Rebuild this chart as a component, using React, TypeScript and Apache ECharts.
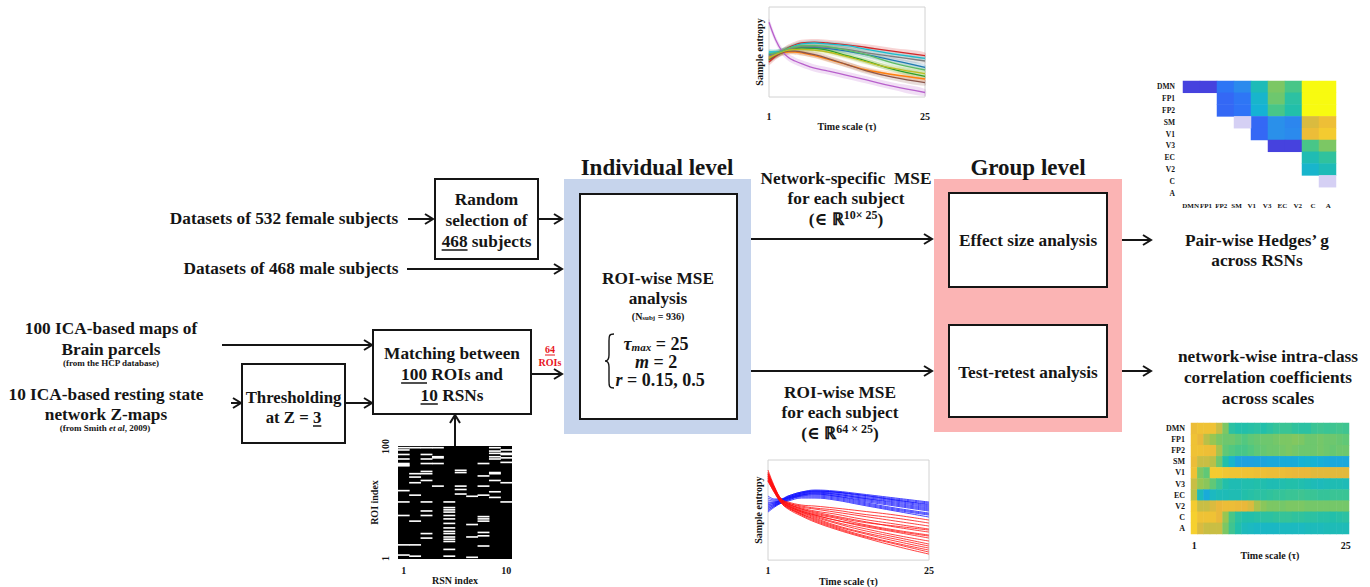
import React, { useEffect, useRef } from 'react';
import * as echarts from 'echarts';

const SERIF = '"Liberation Serif", "Times New Roman", "DejaVu Serif", serif';
const INK = '#151515';
const FS = 17.3;

echarts.graphic.registerShape(
  'brace',
  echarts.graphic.extendPath('M9 0 C4 0 4 2 4 7 L4 21 C4 25 3 27 0 27 C3 27 4 29 4 33 L4 47 C4 52 4 54 9 54', {}) as any
);

// ---------- Top chart: network-wise MSE curves (mean ± sd) ----------
const TAU_TOP = [1, 2, 3, 4, 5, 6, 8, 10, 13, 16, 20, 25];
const TOP_COLORS = ['#1f77b4', '#ff7f0e', '#2ca02c', '#d62728', '#b860cc', '#8c564b', '#17becf', '#7f7f7f', '#bcbd22', '#5dbb63'];
const TOP_MEAN = [
  [0.47, 0.49, 0.51, 0.53, 0.545, 0.55, 0.55, 0.54, 0.51, 0.47, 0.41, 0.33],
  [0.44, 0.47, 0.49, 0.5, 0.5, 0.49, 0.46, 0.42, 0.36, 0.3, 0.25, 0.2],
  [0.41, 0.46, 0.5, 0.53, 0.54, 0.545, 0.54, 0.52, 0.46, 0.4, 0.31, 0.23],
  [0.39, 0.45, 0.5, 0.55, 0.58, 0.6, 0.61, 0.6, 0.58, 0.55, 0.51, 0.46],
  [0.83, 0.64, 0.51, 0.44, 0.4, 0.37, 0.32, 0.29, 0.24, 0.19, 0.12, 0.05],
  [0.42, 0.46, 0.49, 0.51, 0.51, 0.5, 0.47, 0.43, 0.36, 0.29, 0.22, 0.16],
  [0.5, 0.5, 0.51, 0.54, 0.57, 0.59, 0.6, 0.59, 0.57, 0.53, 0.48, 0.43],
  [0.46, 0.48, 0.51, 0.53, 0.55, 0.56, 0.56, 0.55, 0.53, 0.49, 0.45, 0.4],
  [0.43, 0.47, 0.5, 0.52, 0.53, 0.53, 0.52, 0.5, 0.45, 0.39, 0.32, 0.26],
  [0.48, 0.49, 0.51, 0.54, 0.56, 0.57, 0.57, 0.56, 0.52, 0.47, 0.38, 0.3],
];
const TOP_SD = [0.03, 0.03, 0.03, 0.035, 0.04, 0.035, 0.03, 0.03, 0.03, 0.035];

// ---------- Bottom chart: ROI-wise MSE curves ----------
const TAU_BOT = [1, 2, 3, 4, 6, 8, 11, 15, 20, 25];
const BLUE_LINES = [
  [0.64, 0.61, 0.61, 0.64, 0.68, 0.7, 0.69, 0.66, 0.62, 0.58],
  [0.62, 0.6, 0.61, 0.64, 0.68, 0.69, 0.68, 0.65, 0.61, 0.57],
  [0.6, 0.59, 0.6, 0.63, 0.67, 0.69, 0.68, 0.64, 0.6, 0.55],
  [0.58, 0.58, 0.6, 0.63, 0.67, 0.68, 0.67, 0.63, 0.59, 0.54],
  [0.56, 0.57, 0.6, 0.62, 0.66, 0.68, 0.66, 0.62, 0.57, 0.52],
  [0.55, 0.57, 0.59, 0.62, 0.66, 0.67, 0.65, 0.61, 0.56, 0.51],
  [0.53, 0.56, 0.59, 0.62, 0.65, 0.66, 0.64, 0.6, 0.55, 0.5],
  [0.52, 0.55, 0.58, 0.61, 0.65, 0.66, 0.64, 0.59, 0.54, 0.49],
  [0.51, 0.55, 0.58, 0.61, 0.64, 0.65, 0.63, 0.58, 0.52, 0.47],
  [0.5, 0.54, 0.58, 0.6, 0.64, 0.64, 0.62, 0.57, 0.51, 0.46],
  [0.49, 0.54, 0.57, 0.6, 0.63, 0.63, 0.61, 0.56, 0.5, 0.45],
  [0.48, 0.53, 0.57, 0.59, 0.62, 0.62, 0.6, 0.55, 0.49, 0.43],
  [0.57, 0.58, 0.6, 0.63, 0.67, 0.69, 0.68, 0.65, 0.6, 0.56],
  [0.54, 0.56, 0.59, 0.62, 0.65, 0.67, 0.66, 0.62, 0.58, 0.53],
];
const RED_LINES = [
  [0.9, 0.73, 0.61, 0.58, 0.55, 0.54, 0.52, 0.49, 0.45, 0.4],
  [0.88, 0.72, 0.61, 0.57, 0.54, 0.52, 0.5, 0.46, 0.42, 0.37],
  [0.87, 0.72, 0.6, 0.57, 0.53, 0.51, 0.48, 0.44, 0.39, 0.34],
  [0.86, 0.71, 0.6, 0.56, 0.52, 0.49, 0.46, 0.41, 0.36, 0.31],
  [0.85, 0.71, 0.6, 0.56, 0.51, 0.48, 0.44, 0.39, 0.33, 0.28],
  [0.84, 0.7, 0.59, 0.55, 0.5, 0.46, 0.42, 0.36, 0.3, 0.25],
  [0.83, 0.7, 0.59, 0.55, 0.49, 0.45, 0.4, 0.34, 0.28, 0.22],
  [0.82, 0.7, 0.59, 0.54, 0.48, 0.44, 0.38, 0.32, 0.25, 0.19],
  [0.82, 0.69, 0.58, 0.54, 0.48, 0.43, 0.37, 0.3, 0.23, 0.16],
  [0.81, 0.69, 0.58, 0.53, 0.47, 0.42, 0.35, 0.28, 0.21, 0.14],
  [0.8, 0.68, 0.58, 0.53, 0.46, 0.41, 0.34, 0.27, 0.19, 0.12],
  [0.8, 0.68, 0.57, 0.52, 0.46, 0.4, 0.33, 0.25, 0.17, 0.1],
  [0.79, 0.67, 0.57, 0.52, 0.45, 0.39, 0.32, 0.24, 0.16, 0.08],
  [0.79, 0.67, 0.57, 0.51, 0.44, 0.38, 0.31, 0.23, 0.14, 0.06],
  [0.86, 0.71, 0.6, 0.56, 0.51, 0.47, 0.43, 0.38, 0.34, 0.3],
  [0.84, 0.7, 0.59, 0.54, 0.49, 0.45, 0.4, 0.35, 0.29, 0.24],
];

// ---------- Hedges' g matrix (-1 = faint / near-zero cell) ----------
const NETWORKS = ['DMN', 'FP1', 'FP2', 'SM', 'V1', 'V3', 'EC', 'V2', 'C', 'A'];
const HEDGES_COLS = ['c1', 'c2', 'c3', 'c4', 'c5', 'c6', 'c7', 'c8', 'c9'];
const N = null;
const HEDGES = [
  [0.08, 0.08, 0.22, 0.28, 0.47, 0.66, 0.58, 1.0, 1.0],
  [N, N, 0.18, 0.22, 0.42, 0.64, 0.52, 1.0, 1.0],
  [N, N, 0.18, 0.21, 0.4, 0.58, 0.5, 1.0, 1.0],
  [N, N, N, -1, 0.18, 0.3, 0.27, 0.78, 0.83],
  [N, N, N, N, 0.18, 0.3, 0.28, 0.82, 0.88],
  [N, N, N, N, N, 0.08, 0.08, 0.58, 0.66],
  [N, N, N, N, N, N, N, 0.48, 0.53],
  [N, N, N, N, N, N, N, 0.42, 0.47],
  [N, N, N, N, N, N, N, N, -1],
  [N, N, N, N, N, N, N, N, N],
];

// ---------- ICC matrix (networks x scales) ----------
const SCALES = ['1', '2', '3', '4', '5', '6', '7', '8', '9', '10', '11', '12', '13', '14', '15', '16', '17', '18', '19', '20', '21', '22', '23', '24', '25'];
const ICC = [
  [0.82, 0.84, 0.84, 0.84, 0.76, 0.66, 0.52, 0.5, 0.5, 0.51, 0.52, 0.5, 0.52, 0.54, 0.55, 0.55, 0.53, 0.52, 0.52, 0.55, 0.56, 0.55, 0.56, 0.57, 0.56],
  [0.84, 0.8, 0.74, 0.7, 0.66, 0.64, 0.64, 0.62, 0.6, 0.62, 0.63, 0.64, 0.64, 0.65, 0.66, 0.66, 0.67, 0.66, 0.64, 0.64, 0.65, 0.64, 0.64, 0.63, 0.62],
  [0.84, 0.84, 0.83, 0.82, 0.72, 0.62, 0.6, 0.58, 0.58, 0.6, 0.62, 0.63, 0.64, 0.64, 0.65, 0.66, 0.65, 0.64, 0.64, 0.64, 0.65, 0.64, 0.63, 0.64, 0.64],
  [0.82, 0.76, 0.76, 0.74, 0.64, 0.5, 0.42, 0.36, 0.35, 0.35, 0.36, 0.36, 0.37, 0.37, 0.38, 0.38, 0.38, 0.4, 0.41, 0.4, 0.39, 0.38, 0.37, 0.37, 0.37],
  [0.84, 0.66, 0.62, 0.88, 0.88, 0.86, 0.85, 0.85, 0.84, 0.84, 0.83, 0.83, 0.82, 0.82, 0.82, 0.81, 0.8, 0.8, 0.8, 0.79, 0.79, 0.79, 0.79, 0.79, 0.79],
  [0.76, 0.7, 0.68, 0.62, 0.56, 0.5, 0.48, 0.48, 0.49, 0.49, 0.5, 0.49, 0.48, 0.48, 0.49, 0.5, 0.5, 0.49, 0.48, 0.47, 0.46, 0.47, 0.48, 0.48, 0.47],
  [0.74, 0.46, 0.38, 0.45, 0.47, 0.47, 0.48, 0.48, 0.5, 0.51, 0.52, 0.52, 0.53, 0.54, 0.54, 0.55, 0.55, 0.56, 0.55, 0.55, 0.54, 0.54, 0.55, 0.55, 0.55],
  [0.88, 0.76, 0.76, 0.78, 0.8, 0.82, 0.82, 0.81, 0.8, 0.78, 0.72, 0.68, 0.66, 0.66, 0.65, 0.66, 0.66, 0.66, 0.65, 0.65, 0.65, 0.65, 0.65, 0.65, 0.65],
  [0.9, 0.84, 0.84, 0.84, 0.8, 0.7, 0.58, 0.52, 0.5, 0.5, 0.51, 0.52, 0.52, 0.53, 0.54, 0.54, 0.53, 0.53, 0.52, 0.52, 0.51, 0.51, 0.5, 0.51, 0.52],
  [0.9, 0.78, 0.76, 0.76, 0.76, 0.66, 0.56, 0.5, 0.46, 0.45, 0.44, 0.44, 0.44, 0.44, 0.45, 0.45, 0.45, 0.45, 0.46, 0.46, 0.46, 0.47, 0.47, 0.47, 0.47],
];

// ---------- ROI-to-RSN assignment matrix (rows of white cells per RSN column) ----------
const RSN_COLS = ['1', '2', '3', '4', '5', '6', '7', '8', '9', '10'];
const ROI_ROWS = Array.from({ length: 100 }, (_, i) => String(i + 1));
const ROI_WHITE = [
  [99, 97, 93, 89, 85, 84, 83, 61, 51, 39, 13, 4],
  [99, 76, 73, 68, 57, 34, 13, 3],
  [99, 93, 89, 85, 78, 76, 70, 51, 43, 39, 23, 19],
  [99, 91, 90, 85, 65],
  [51, 46, 44, 42, 39, 36, 32, 28, 25, 23, 20, 18, 16, 9, 3],
  [79, 77, 65, 62, 58],
  [56, 31, 20, 2],
  [85, 74, 65, 57, 38, 36, 34, 24, 21, 12],
  [99, 96, 94, 91, 89, 77, 76, 70, 60, 55],
  [97, 94, 93, 90, 86, 68, 51],
];

const PARULA = ['#3d2ab0', '#4848ea', '#2f70f8', '#2a90ea', '#15b2d5', '#22bfaa', '#52c880', '#98c652', '#eab83a', '#f6d02e', '#f8fa10'];

// ---------- helpers for the flow diagram ----------
let measureCtx: CanvasRenderingContext2D | null = null;
const textW = (t: string, size = FS) => {
  if (!measureCtx) measureCtx = document.createElement('canvas').getContext('2d');
  if (!measureCtx) return t.length * size * 0.5;
  measureCtx.font = `bold ${size}px ${SERIF}`;
  return measureCtx.measureText(t).width;
};

const txt = (text: string, x: number, y: number, size = FS, extra: any = {}) => ({
  type: 'text', x, y,
  style: { text, fontFamily: SERIF, fontWeight: 'bold', fontSize: size, fill: INK, align: 'center', verticalAlign: 'middle', ...extra },
});
const box = (x: number, y: number, w: number, h: number, fill = '#fff', stroke: any = INK, lw = 2) => ({
  type: 'rect', shape: { x, y, width: w, height: h }, style: { fill, stroke, lineWidth: lw },
});
const seg = (x1: number, y1: number, x2: number, y2: number, color = INK, lw = 2) => ({
  type: 'line', shape: { x1, y1, x2, y2 }, style: { stroke: color, lineWidth: lw },
});
// underline a part of a centred text
const underline = (full: string, prefix: string, part: string, cx: number, y: number, size = FS, color = INK, lw = 1.5) => {
  const left = cx - textW(full, size) / 2 + textW(prefix, size);
  return seg(left, y, left + textW(part, size), y, color, lw);
};
const arrowR = (x1: number, x2: number, y: number) => [
  seg(x1, y, x2, y),
  { type: 'polyline', shape: { points: [[x2 - 8, y - 5], [x2, y], [x2 - 8, y + 5]] }, style: { stroke: INK, lineWidth: 2, fill: null } },
];
const arrowU = (x: number, y1: number, y2: number) => [
  seg(x, y1, x, y2),
  { type: 'polyline', shape: { points: [[x - 5, y2 + 8], [x, y2], [x + 5, y2 + 8]] }, style: { stroke: INK, lineWidth: 2, fill: null } },
];

const mathRich = {
  v: { fontFamily: SERIF, fontWeight: 'bold', fontStyle: 'italic', fontSize: 18, lineHeight: 17, fill: INK },
  n: { fontFamily: SERIF, fontWeight: 'bold', fontSize: 18, lineHeight: 17, fill: INK },
  sub: { fontFamily: SERIF, fontWeight: 'bold', fontStyle: 'italic', fontSize: 11, lineHeight: 9, verticalAlign: 'bottom', fill: INK },
};
const setRich = {
  n: { fontFamily: SERIF, fontWeight: 'bold', fontSize: FS, lineHeight: 20, fill: INK },
  sup: { fontFamily: SERIF, fontWeight: 'bold', fontSize: 12, lineHeight: 11, verticalAlign: 'top', fill: INK },
};

function buildGraphic() {
  const g: any[] = [];
  // background panels
  g.push(box(564, 179, 187, 255, '#c6d4ec', null, 0));
  g.push(box(934, 179, 188, 253, '#fbb4b4', null, 0));
  g.push(txt('Individual level', 657, 167, 23));
  g.push(txt('Group level', 1028, 167, 23));

  // left inputs
  g.push(txt('Datasets of 532 female subjects', 284, 218));
  g.push(txt('Datasets of 468 male subjects', 291, 268));
  g.push(...arrowR(408, 433, 219));
  g.push(box(435, 179, 103, 80));
  g.push(txt('Random', 486.5, 199));
  g.push(txt('selection of', 486.5, 220));
  g.push(txt('468 subjects', 486.5, 241));
  g.push(underline('468 subjects', '', '468', 486.5, 250));
  g.push(...arrowR(538, 562, 219));
  g.push(...arrowR(407, 562, 269));

  g.push(txt('100 ICA-based maps of', 111, 328));
  g.push(txt('Brain parcels', 111, 349));
  g.push(txt('(from the HCP database)', 111, 363, 9));
  g.push(txt('10 ICA-based resting state', 106, 394));
  g.push(txt('network Z-maps', 106, 414));
  g.push({
    type: 'text', x: 105, y: 428,
    style: {
      text: '{a|(from Smith }{i|et al}{a|, 2009)}', align: 'center', verticalAlign: 'middle',
      rich: {
        a: { fontFamily: SERIF, fontWeight: 'bold', fontSize: 9, fill: INK },
        i: { fontFamily: SERIF, fontWeight: 'bold', fontStyle: 'italic', fontSize: 9, fill: INK },
      },
    },
  });
  g.push(...arrowR(222, 372, 345));
  g.push(...arrowR(231, 241, 403));
  g.push(box(242, 364, 103, 79));
  g.push(txt('Thresholding', 293.5, 397, 16.8));
  g.push(txt('at Z = 3', 293.5, 417, 16.8));
  g.push(underline('at Z = 3', 'at Z = ', '3', 293.5, 426, 16.8));
  g.push(...arrowR(345, 372, 403));

  g.push(box(373, 330, 158, 84));
  g.push(txt('Matching between', 452, 353));
  g.push(txt('100 ROIs and', 452, 374));
  g.push(txt('10 RSNs', 452, 395));
  g.push(underline('100 ROIs and', '', '100', 452, 383));
  g.push(underline('10 RSNs', '', '10', 452, 404));
  g.push(...arrowR(531, 562, 374));
  g.push(txt('64', 550, 349, 10, { fill: '#e8141c' }));
  g.push(underline('64', '', '64', 550, 355, 10, '#e8141c', 1));
  g.push(txt('ROIs', 550, 362, 10, { fill: '#e8141c' }));
  g.push(...arrowU(455, 446, 415));

  // individual level box
  g.push(box(580, 194, 157, 225));
  g.push(txt('ROI-wise MSE', 658, 278));
  g.push(txt('analysis', 658, 298));
  g.push({
    type: 'text', x: 658, y: 316,
    style: {
      text: '{n|(N}{sub|subj}{n| = 936)}', align: 'center', verticalAlign: 'middle',
      rich: {
        n: { fontFamily: SERIF, fontWeight: 'bold', fontSize: 10, lineHeight: 11, fill: INK },
        sub: { fontFamily: SERIF, fontWeight: 'bold', fontSize: 7, lineHeight: 6, verticalAlign: 'bottom', fill: INK },
      },
    },
  });
  g.push({ type: 'brace', x: 605, y: 334, style: { stroke: INK, lineWidth: 1.4, fill: null } });
  g.push({ type: 'text', x: 656, y: 344, style: { text: '{v|τ}{sub|max}{n| = 25}', rich: mathRich, align: 'center', verticalAlign: 'middle' } });
  g.push({ type: 'text', x: 656, y: 362, style: { text: '{v|m}{n| = 2}', rich: mathRich, align: 'center', verticalAlign: 'middle' } });
  g.push({ type: 'text', x: 660, y: 380, style: { text: '{v|r}{n| = 0.15, 0.5}', rich: mathRich, align: 'center', verticalAlign: 'middle' } });

  // middle arrows + labels
  g.push(...arrowR(751, 932, 239));
  g.push(...arrowR(751, 932, 371));
  g.push(txt('Network-specific  MSE', 846, 178));
  g.push(txt('for each subject', 846, 198));
  g.push({ type: 'text', x: 846, y: 219, style: { text: '{n|(∈ ℝ}{sup|10× 25}{n|)}', rich: setRich, align: 'center', verticalAlign: 'middle' } });
  g.push(txt('ROI-wise MSE', 840, 392));
  g.push(txt('for each subject', 840, 412));
  g.push({ type: 'text', x: 840, y: 433, style: { text: '{n|(∈ ℝ}{sup|64 × 25}{n|)}', rich: setRich, align: 'center', verticalAlign: 'middle' } });

  // group level boxes
  g.push(box(949, 193, 158, 94));
  g.push(txt('Effect size analysis', 1028, 240));
  g.push(box(949, 325, 158, 92));
  g.push(txt('Test-retest analysis', 1028, 372));

  // outputs
  g.push(...arrowR(1122, 1151, 240));
  g.push(...arrowR(1122, 1151, 371));
  g.push(txt('Pair-wise Hedges’ g', 1257, 240));
  g.push(txt('across RSNs', 1257, 260));
  g.push(txt('network-wise intra-class', 1268, 356));
  g.push(txt('correlation coefficients', 1268, 377));
  g.push(txt('across scales', 1268, 398));
  return g;
}

const lbl = (size: number, extra: any = {}) => ({ fontFamily: SERIF, fontWeight: 'bold', fontSize: size, color: INK, ...extra });
const endsOnly = (v: number) => (v === 1 || v === 25 ? String(v) : '');

function buildOption() {
  const series: any[] = [];
  series.push({
    type: 'custom', xAxisIndex: 0, yAxisIndex: 0, silent: true, z: 1,
    data: TOP_MEAN.map((m) => [TAU_TOP[0], m[0]]),
    renderItem: (params: any, api: any) => {
      const i = params.dataIndex;
      const m = TOP_MEAN[i];
      const sd = TOP_SD[i];
      const up = m.map((v, j) => api.coord([TAU_TOP[j], v + sd]));
      const lo = m.map((v, j) => api.coord([TAU_TOP[j], v - sd])).reverse();
      return { type: 'polygon', shape: { points: up.concat(lo), smooth: 0.3 }, style: { fill: TOP_COLORS[i], opacity: 0.2 } };
    },
  });
  TOP_MEAN.forEach((m, i) =>
    series.push({
      type: 'line', xAxisIndex: 0, yAxisIndex: 0, smooth: 0.4, showSymbol: false, silent: true, z: 3,
      data: m.map((v, j) => [TAU_TOP[j], v]),
      lineStyle: { color: TOP_COLORS[i], width: 1.3 },
    })
  );
  BLUE_LINES.forEach((m) =>
    series.push({
      type: 'line', xAxisIndex: 1, yAxisIndex: 1, smooth: 0.4, showSymbol: false, silent: true,
      data: m.map((v, j) => [TAU_BOT[j], v]),
      lineStyle: { color: '#1414ff', width: 0.8 },
    })
  );
  RED_LINES.forEach((m) =>
    series.push({
      type: 'line', xAxisIndex: 1, yAxisIndex: 1, smooth: 0.4, showSymbol: false, silent: true,
      data: m.map((v, j) => [TAU_BOT[j], v]),
      lineStyle: { color: '#ff1010', width: 0.8 },
    })
  );
  const hedgesData: any[] = [];
  const faintData: any[] = [];
  HEDGES.forEach((row, r) =>
    row.forEach((v, c) => {
      if (v === null) return;
      if (v < 0) faintData.push([c, r, 1]);
      else hedgesData.push([c, r, v]);
    })
  );
  const hedgesIdx = series.length;
  series.push({ type: 'heatmap', xAxisIndex: 2, yAxisIndex: 2, data: hedgesData, silent: true });
  const faintIdx = series.length;
  series.push({ type: 'heatmap', xAxisIndex: 2, yAxisIndex: 2, data: faintData, silent: true });
  const iccData: any[] = [];
  ICC.forEach((row, r) => row.forEach((v, c) => iccData.push([c, r, v])));
  const iccIdx = series.length;
  series.push({ type: 'heatmap', xAxisIndex: 4, yAxisIndex: 3, data: iccData, silent: true });
  const roiData: any[] = [];
  ROI_WHITE.forEach((rows, c) => rows.forEach((r) => roiData.push([c, r - 1, 1])));
  const roiIdx = series.length;
  series.push({ type: 'heatmap', xAxisIndex: 5, yAxisIndex: 4, data: roiData, silent: true });

  const hidden = { axisLine: { show: false }, axisTick: { show: false }, splitLine: { show: false } };

  return {
    animation: false,
    backgroundColor: '#fff',
    textStyle: { fontFamily: SERIF },
    grid: [
      { left: 769, top: 7, width: 156, height: 90, show: true, borderColor: '#d2d2d2', borderWidth: 1 },
      { left: 768, top: 460, width: 161, height: 108, show: true, borderColor: '#d2d2d2', borderWidth: 1 },
      { left: 1183, top: 81, width: 153, height: 118 },
      { left: 1191, top: 423, width: 158, height: 111 },
      { left: 398, top: 446, width: 114, height: 113, show: true, backgroundColor: '#000', borderWidth: 0 },
    ],
    xAxis: [
      {
        type: 'value', gridIndex: 0, min: 1, max: 25, interval: 24, ...hidden,
        axisLabel: { ...lbl(10), margin: 14, formatter: endsOnly },
        name: 'Time scale (τ)', nameLocation: 'middle', nameGap: 14, nameTextStyle: lbl(10),
      },
      {
        type: 'value', gridIndex: 1, min: 1, max: 25, interval: 24, ...hidden,
        axisLabel: { ...lbl(10), margin: 5, formatter: endsOnly },
        name: 'Time scale (τ)', nameLocation: 'middle', nameGap: 5, nameTextStyle: lbl(10),
      },
      { type: 'category', gridIndex: 2, data: HEDGES_COLS, show: false },
      {
        type: 'category', gridIndex: 2, data: NETWORKS, position: 'bottom', ...hidden,
        axisLabel: { ...lbl(7), margin: 3, interval: 0 },
      },
      {
        type: 'category', gridIndex: 3, data: SCALES, ...hidden,
        axisLabel: { ...lbl(10), margin: 6, interval: (i: number) => i === 0 || i === 24 },
        name: 'Time scale (τ)', nameLocation: 'middle', nameGap: 6, nameTextStyle: lbl(10),
      },
      {
        type: 'category', gridIndex: 4, data: RSN_COLS, ...hidden,
        axisLabel: { ...lbl(10), margin: 6, interval: (i: number) => i === 0 || i === 9 },
        name: 'RSN index', nameLocation: 'middle', nameGap: 6, nameTextStyle: lbl(10),
      },
    ],
    yAxis: [
      {
        type: 'value', gridIndex: 0, min: 0, max: 1, ...hidden, axisLabel: { show: false },
        name: 'Sample entropy', nameLocation: 'middle', nameRotate: 90, nameGap: 5, nameTextStyle: lbl(10),
      },
      {
        type: 'value', gridIndex: 1, min: 0, max: 1, ...hidden, axisLabel: { show: false },
        name: 'Sample entropy', nameLocation: 'middle', nameRotate: 90, nameGap: 5, nameTextStyle: lbl(10),
      },
      {
        type: 'category', gridIndex: 2, data: NETWORKS, inverse: true, ...hidden,
        axisLabel: { ...lbl(7.5), margin: 8, interval: 0 },
      },
      {
        type: 'category', gridIndex: 3, data: NETWORKS, inverse: true, ...hidden,
        axisLabel: { ...lbl(8), margin: 6, interval: 0 },
      },
      {
        type: 'category', gridIndex: 4, data: ROI_ROWS, ...hidden,
        axisLabel: { ...lbl(10), margin: 8, rotate: 90, interval: (i: number) => i === 0 || i === 99 },
        name: 'ROI index', nameLocation: 'middle', nameRotate: 90, nameGap: 9, nameTextStyle: lbl(10),
      },
    ],
    visualMap: [
      { type: 'continuous', show: false, min: 0, max: 1, seriesIndex: [hedgesIdx, iccIdx], inRange: { color: PARULA } },
      { type: 'continuous', show: false, min: 0, max: 1, seriesIndex: faintIdx, inRange: { color: ['#d5d0f4', '#d5d0f4'] } },
      { type: 'continuous', show: false, min: 0, max: 1, seriesIndex: roiIdx, inRange: { color: ['#ffffff', '#ffffff'] } },
    ],
    series,
    graphic: { elements: buildGraphic() },
  };
}

export default function App() {
  const ref = useRef<HTMLDivElement>(null);
  useEffect(() => {
    const chart = echarts.init(ref.current as HTMLDivElement, null, { renderer: 'svg' });
    chart.setOption(buildOption() as any);
    return () => chart.dispose();
  }, []);
  return <div ref={ref} style={{ position: 'absolute', left: 0, top: 0, width: 1370, height: 587, background: '#fff' }} />;
}
